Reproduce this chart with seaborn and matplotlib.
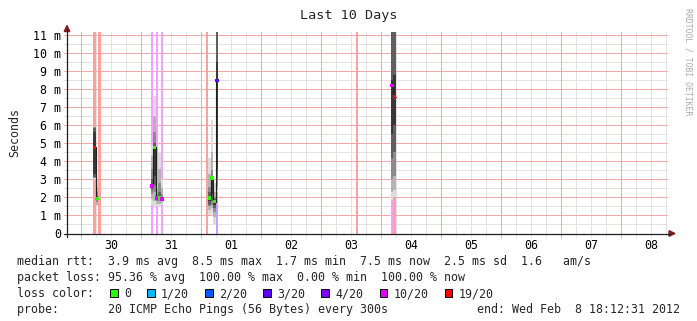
import numpy as np
import pandas as pd
import matplotlib
matplotlib.use("Agg")
import matplotlib.pyplot as plt
import matplotlib.colors as mcolors
from matplotlib.patches import Rectangle, Polygon
from matplotlib.lines import Line2D
import seaborn as sns

# ---------------- data ----------------
title = "Last 10 Days"
window_start = "2012-01-29 18:12:31"
window_end = "2012-02-08 18:12:31"
day_labels = ["30", "31", "01", "02", "03", "04", "05", "06", "07", "08"]
y_ticks = [0, 1, 2, 3, 4, 5, 6, 7, 8, 9, 10, 11]
y_tick_labels = ["0", "1 m", "2 m", "3 m", "4 m", "5 m", "6 m", "7 m", "8 m", "9 m", "10 m", "11 m"]

# hourly columns (hours after window start) that carry data or a loss bar
col_hours = [11, 12, 13, 34, 35, 36, 37, 38, 56, 57, 58, 59, 60, 116, 130, 131]
col_loss = [19, 0, 19, 10, 0, 10, 0, 10, 19, 0, 0, 0, 3, 19, 10, 19]
col_median = [4.77, 1.94, np.nan, 2.62, 4.77, 1.98, 1.95, 1.90, np.nan,
              1.96, 3.09, 1.77, 8.48, np.nan, 8.19, 7.55]
# smoke bands, outermost (light) to innermost (dark): lower and upper bounds in ms
nan5 = [np.nan] * 5
smoke_lo = [
    [3.00, 3.05, 3.10, 3.15, 3.30],
    [1.45, 1.60, 1.75, 1.85, 1.90],
    nan5,
    [1.60, 1.90, 2.20, 2.40, 2.55],
    [1.42, 1.80, 2.30, 2.70, 3.20],
    [1.50, 1.65, 1.80, 1.90, 1.95],
    [1.50, 1.65, 1.80, 1.88, 1.92],
    [1.60, 1.70, 1.80, 1.85, 1.88],
    nan5,
    [1.00, 1.30, 1.50, 1.60, 1.80],
    [1.10, 1.40, 1.60, 1.80, 2.20],
    [0.50, 0.90, 1.20, 1.40, 1.60],
    [2.30, 2.40, 2.60, 3.00, 3.50],
    nan5,
    [1.86, 2.30, 3.00, 4.20, 5.50],
    [2.03, 2.40, 3.20, 4.50, 6.00],
]
smoke_hi = [
    [5.92, 5.90, 5.88, 5.85, 5.60],
    [2.95, 2.60, 2.30, 2.10, 2.00],
    nan5,
    [4.90, 4.30, 3.60, 3.00, 2.70],
    [7.60, 6.50, 5.60, 5.00, 4.85],
    [2.80, 2.50, 2.20, 2.10, 2.02],
    [4.50, 3.60, 2.80, 2.30, 2.05],
    [3.00, 2.50, 2.20, 2.00, 1.95],
    nan5,
    [4.20, 3.30, 2.60, 2.30, 2.10],
    [6.30, 4.50, 3.50, 3.20, 3.10],
    [2.80, 2.30, 2.00, 1.90, 1.85],
    [11.8, 11.8, 11.8, 11.8, 9.50],
    nan5,
    [11.8, 11.8, 11.8, 11.8, 8.50],
    [11.8, 11.8, 11.8, 11.8, 8.80],
]

loss_levels = [0, 1, 2, 3, 4, 10, 19]
loss_labels = ["0", "1/20", "2/20", "3/20", "4/20", "10/20", "19/20"]
loss_colors = ["#26ff00", "#00b8ff", "#0059ff", "#5e00ff", "#7e00ff", "#dd00ff", "#ff0000"]

legend_rtt = "median rtt:  3.9 ms avg  8.5 ms max  1.7 ms min  7.5 ms now  2.5 ms sd  1.6   am/s"
legend_loss = "packet loss: 95.36 % avg  100.00 % max  0.00 % min  100.00 % now"
legend_color_title = "loss color:"
legend_probe = "probe:       20 ICMP Echo Pings (56 Bytes) every 300s"
legend_end = "end: Wed Feb  8 18:12:31 2012"
watermark = "RRDTOOL / TOBI OETIKER"

# ---------------- style ----------------
sns.set_theme(style="white")
plt.rcParams['font.family'] = ['DejaVu Sans Mono', 'DejaVu Sans']
FS = 8.4
W, H = 697, 321
smoke_greys = ["#dddddd", "#b4b4b4", "#8c8c8c", "#5f5f5f", "#383838"]
minor_c = "#e3e3e3"
major_c = "#f3a9a9"


def fx(x):
    return x / W


def fy(y):
    return 1 - y / H


def blend(c, a):
    r, g, b = mcolors.to_rgb(c)
    return (1 - a + a * r, 1 - a + a * g, 1 - a + a * b)


def level_color(l):
    for lv, c in zip(loss_levels, loss_colors):
        if l <= lv:
            return c
    return loss_colors[-1]


fig = plt.figure(figsize=(W / 100, H / 100), dpi=100)
fig.patch.set_facecolor("white")
AX_L, AX_R, AX_T, AX_B = 67, 667, 32, 233.5
ax = fig.add_axes([fx(AX_L), fy(AX_B), (AX_R - AX_L) / W, (AX_B - AX_T) / H])
ax.set_facecolor("white")
for s in ax.spines.values():
    s.set_visible(False)

t0 = pd.Timestamp(window_start)
t1 = pd.Timestamp(window_end)
hr = pd.Timedelta(hours=1)
span_h = (t1 - t0) / hr
ymax = 11.16
ax.set_xlim(0, span_h)
ax.set_ylim(0, ymax)

# grid
GLW = 0.72
minor_t = pd.date_range(t0.ceil("6h"), t1, freq="6h")
major_t = pd.date_range(t0.ceil("D"), t1, freq="D")
noon_t = pd.date_range(t0.ceil("D") + 12 * hr, t1, freq="D")
ext_y = 3 / (AX_B - AX_T)
ext_x = 3 / (AX_R - AX_L)
for t in minor_t:
    if t in major_t:
        continue
    ax.axvline((t - t0) / hr, ymin=-ext_y, ymax=1, color=minor_c, lw=GLW, zorder=0.5,
               clip_on=False, snap=True)
for t in major_t:
    ax.axvline((t - t0) / hr, ymin=-ext_y, ymax=1, color=major_c, lw=GLW, zorder=0.6,
               clip_on=False, snap=True)
for v in np.arange(0.5, 11.01, 0.5):
    is_major = float(v).is_integer()
    ax.axhline(v, xmin=-ext_x, xmax=1, color=major_c if is_major else minor_c, lw=GLW,
               zorder=0.6 if is_major else 0.5, clip_on=False, snap=True)

# loss bars
for c, l in zip(col_hours, col_loss):
    if l > 0:
        ax.axvspan(c - 0.5, c + 0.5, color=blend(level_color(l), 0.37), lw=0, zorder=1)

# smoke
lo = np.array(smoke_lo, dtype=float)
hi = np.array(smoke_hi, dtype=float)
xs = np.array(col_hours, dtype=float)
for i in range(lo.shape[1]):
    ok = ~np.isnan(lo[:, i])
    ax.bar(xs[ok], hi[ok, i] - lo[ok, i], bottom=lo[ok, i], width=1.0,
           color=smoke_greys[i], linewidth=0, zorder=2 + 0.01 * i)

# median line (stepwise, broken where no data)
med = np.array(col_median, dtype=float)
runs, cur = [], []
for c, m in zip(col_hours, med):
    if np.isnan(m):
        if cur:
            runs.append(cur)
        cur = []
        continue
    if cur and c != cur[-1][0] + 1:
        runs.append(cur)
        cur = []
    cur.append((c, m))
if cur:
    runs.append(cur)
for run in runs:
    rx = [c - 0.5 for c, _ in run] + [run[-1][0] + 0.5]
    ry = [m for _, m in run] + [run[-1][1]]
    sns.lineplot(x=rx, y=ry, ax=ax, drawstyle="steps-post", estimator=None, sort=False,
                 color="#202020", lw=0.8, zorder=3)

# median markers coloured by loss
okm = ~np.isnan(med)
mcols = [level_color(l) for l, o in zip(col_loss, okm) if o]
ax.bar(xs[okm], 0.2, bottom=med[okm] - 0.1, width=1.3, color=mcols, linewidth=0, zorder=4)

# ticks
ax.set_xticks([(t - t0) / hr for t in noon_t], day_labels[:len(noon_t)])
ax.set_yticks(y_ticks, y_tick_labels)
ax.tick_params(axis="x", length=0, pad=4.2, labelsize=FS, colors="black")
ax.tick_params(axis="y", length=0, pad=4.0, labelsize=FS, colors="black")
ax.grid(False)

# axes lines and arrows
axis_c = "#1f1f1f"
arrow_c = "#7f1f1f"
fig.add_artist(Line2D([fx(64), fx(670)], [fy(AX_B), fy(AX_B)], color=axis_c, lw=0.9))
fig.add_artist(Line2D([fx(AX_L), fx(AX_L)], [fy(AX_B + 3), fy(29)], color=axis_c, lw=0.9))
fig.add_artist(Polygon([(fx(669), fy(AX_B - 2.8)), (fx(675), fy(AX_B)), (fx(669), fy(AX_B + 2.8))],
                       closed=True, color=arrow_c, transform=fig.transFigure))
fig.add_artist(Polygon([(fx(AX_L - 2.8), fy(31.5)), (fx(AX_L), fy(25.5)), (fx(AX_L + 2.8), fy(31.5))],
                       closed=True, color=arrow_c, transform=fig.transFigure))

# texts
fig.text(fx(349), fy(15.5), title, ha="center", va="center", fontsize=9.7)
fig.text(fx(15), fy(132), "Seconds", rotation=90, ha="center", va="center", fontsize=FS)
fig.text(fx(688), fy(8), watermark, rotation=270, ha="center", va="top", fontsize=5.9, color="#aaaaaa")

row_base = [265.3, 281.3, 297.3, 313.3]
x0 = 17.0
fig.text(fx(x0), fy(row_base[0]), legend_rtt, ha="left", va="baseline", fontsize=FS)
fig.text(fx(x0), fy(row_base[1]), legend_loss, ha="left", va="baseline", fontsize=FS)
fig.text(fx(x0), fy(row_base[2]), legend_color_title, ha="left", va="baseline", fontsize=FS)
fig.text(fx(x0), fy(row_base[3]), legend_probe, ha="left", va="baseline", fontsize=FS)
fig.text(fx(680), fy(row_base[3]), legend_end, ha="right", va="baseline", fontsize=FS)

char_w = 7.05
bx = 110.2
box = 7.4
for lab, c in zip(loss_labels, loss_colors):
    yc = row_base[2] - 4.3
    fig.add_artist(Rectangle((fx(bx), fy(yc + box / 2)), box / W, box / H, facecolor=c,
                             edgecolor="black", lw=0.7, transform=fig.transFigure))
    lx = bx + 13.7
    fig.text(fx(lx), fy(row_base[2]), lab, ha="left", va="baseline", fontsize=FS)
    bx = lx + char_w * len(lab) + 16.2

fig.savefig("out.png", dpi=100, facecolor="white")
